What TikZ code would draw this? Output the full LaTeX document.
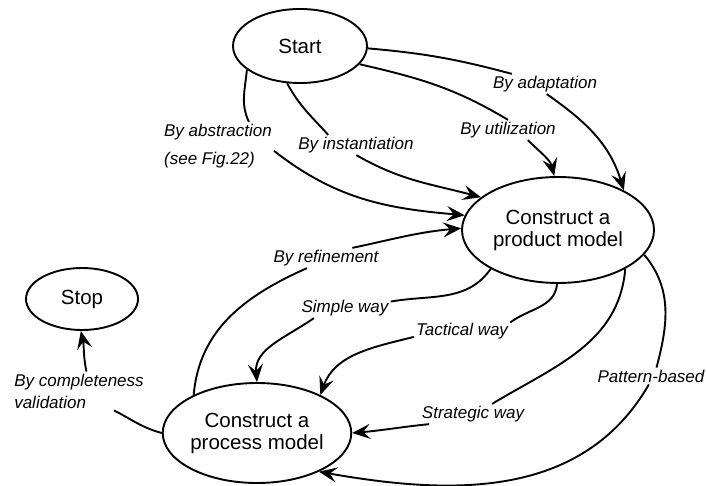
\documentclass[tikz,border=0pt]{standalone}
\usepackage{fontspec}
\setmainfont{Liberation Sans}
\usetikzlibrary{shapes.geometric,arrows.meta}
\begin{document}
\begin{tikzpicture}[x=1pt,y=1pt,
  state/.style={ellipse,draw,line width=1.9pt,inner sep=0pt,font=\fontsize{20.5}{22}\selectfont,align=center},
  lab/.style={font=\fontsize{17}{22}\selectfont\itshape,inner sep=2pt,align=left},
  link/.style={line width=1.9pt},
  arr/.style={link,-{Stealth[length=18pt,width=15pt,inset=7pt]}}]
\path[use as bounding box] (0,0) rectangle (706,485);
\node[state,minimum width=134pt,minimum height=74pt] (start) at (300,439) {Start};
\node[state,minimum width=192pt,minimum height=106pt] (product) at (558,255) {Construct a\\product model};
\node[state,minimum width=182pt,minimum height=100pt] (process) at (257,52) {Construct a\\process model};
\node[state,minimum width=112pt,minimum height=62pt] (stop) at (82,186) {Stop};
\node[lab] (adapt) at (545,401) {By adaptation};
\node[lab] (util) at (508,355) {By utilization};
\node[lab] (inst) at (356,340) {By instantiation};
\node[lab] (abstr) at (218,339) {By abstraction\\[6pt](see Fig.22)};
\node[lab] (refine) at (326,227) {By refinement};
\node[lab] (simple) at (345,177) {Simple way};
\node[lab] (tactical) at (462,154) {Tactical way};
\node[lab] (strategic) at (473,71) {Strategic way};
\node[lab] (pattern) at (651,109) {Pattern-based};
\node[lab] (complete) at (79,94) {By completeness\\validation};
\draw[link] (start.-2) to[out=-5,in=165] (adapt.163);
\draw[arr] (adapt.-80) to[out=-35,in=107] (product.31);
\draw[link] (start.-17) to[out=-13,in=149] (util.90);
\draw[arr] (util.-27) to[out=-45,in=104] (product.94);
\draw[link] (start.-109) to[out=-62,in=132] (inst.160);
\draw[arr] (inst.-88) to[out=-30,in=165] (product.157);
\draw[link] (start.-156) to[out=-95,in=115] (abstr.38);
\draw[arr] (abstr.-5) to[out=-38,in=175] (product.171);
\draw[link] (process.149) to[out=85,in=-156] (refine.-152);
\draw[arr] (refine.21) to[out=12,in=185] (product.179);
\draw[link] (product.-150) to[out=-125,in=10] (simple.8);
\draw[arr] (simple.-162) to[out=-145,in=95] (process.90);
\draw[link] (product.-91) to[out=-95,in=37] (tactical.10);
\draw[arr] (tactical.-173) to[out=194,in=70] (process.31);
\draw[link] (product.-30) to[out=-95,in=31] (strategic.28);
\draw[arr] (strategic.-167) to[out=186,in=5] (process.0);
\draw[link] (product.-16) to[out=-50,in=75] (pattern.57);
\draw[arr] (pattern.-104) to[out=-120,in=-10] (process.-32);
\draw[link] (process.180) to[out=165,in=-27] (complete.-29);
\draw[arr] (complete.69) to[out=102,in=-78] (stop.-92);
\end{tikzpicture}
\end{document}
